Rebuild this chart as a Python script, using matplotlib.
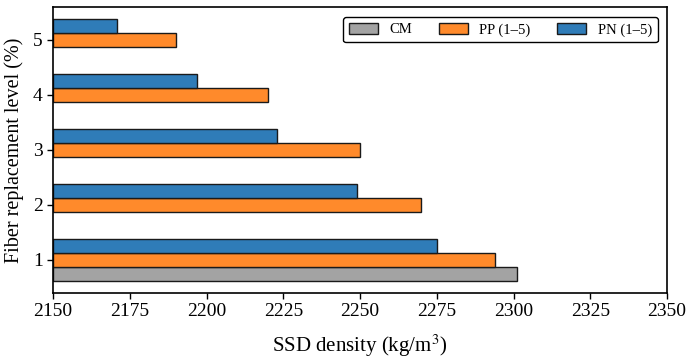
import matplotlib
matplotlib.use("Agg")
import matplotlib.pyplot as plt
import numpy as np

plt.rcParams['font.family'] = ['Liberation Serif', 'DejaVu Serif']
plt.rcParams['mathtext.fontset'] = 'stix'

levels = [1, 2, 3, 4, 5]
cm_value = [2301]
pp_values = [2294, 2270, 2250, 2220, 2190]
pn_values = [2275, 2249, 2223, 2197, 2171]
xticks = [2150, 2175, 2200, 2225, 2250, 2275, 2300, 2325, 2350]

fig = plt.figure(figsize=(6.93, 3.59), dpi=100)
ax = fig.add_axes([0.0765, 0.184, 0.886, 0.797])

h = 0.25
y = np.array(levels, dtype=float)
base = 2150
ax.barh([1 - h], [v - base for v in cm_value], left=base, height=h,
        color='#a3a3a3', edgecolor='#1a1a1a', linewidth=1.0, label='CM')
ax.barh(y, np.array(pp_values) - base, left=base, height=h,
        color='#ff8a2b', edgecolor='#1a1a1a', linewidth=1.0, label='PP (1–5)')
ax.barh(y + h, np.array(pn_values) - base, left=base, height=h,
        color='#2f7cb8', edgecolor='#1a1a1a', linewidth=1.0, label='PN (1–5)')

ax.set_xlim(2150, 2350)
ax.set_ylim(0.4, 5.6)
ax.set_xticks(xticks)
ax.set_yticks(levels)
ax.tick_params(labelsize=14, width=1.0, length=4)
for s in ax.spines.values():
    s.set_linewidth(1.2)

ax.set_xlabel('SSD density (kg/m$^3$)', fontsize=15, labelpad=9)
ax.set_ylabel('Fiber replacement level (%)', fontsize=14.5, labelpad=6)

leg = ax.legend(loc='upper right', ncol=3, fontsize=10.5, frameon=True,
                fancybox=True, edgecolor='black', handlelength=2.0,
                handleheight=0.8, columnspacing=1.8,
                bbox_to_anchor=(0.997, 0.99))
leg.get_frame().set_linewidth(1.0)
leg.get_frame().set_alpha(1)

fig.savefig('out.png', dpi=100)
